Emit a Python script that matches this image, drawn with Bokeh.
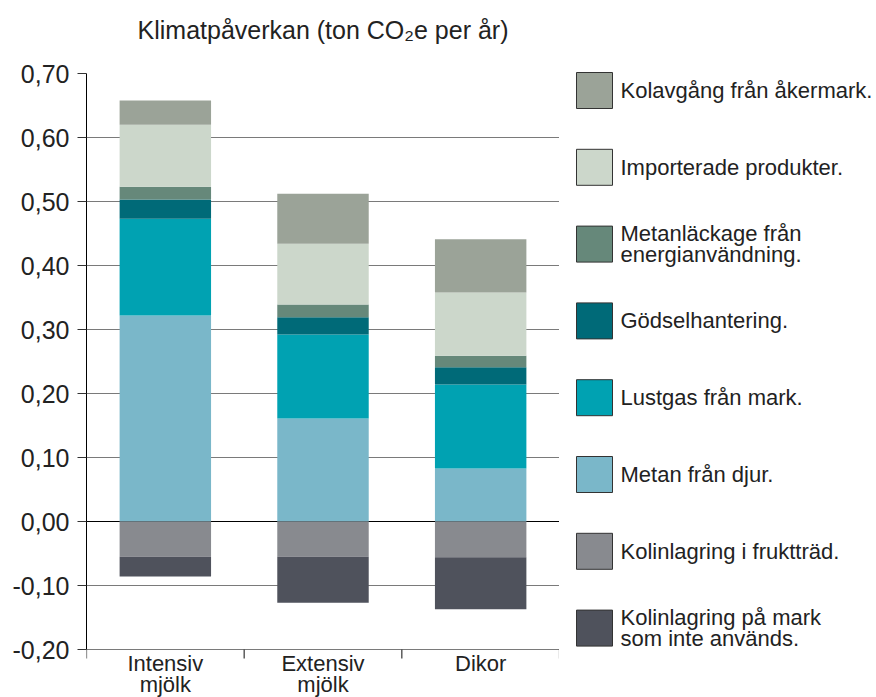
import math
from bokeh.plotting import figure
from bokeh.models import (Range1d, FixedTicker, CustomJSTickFormatter, Span,
                          ColumnDataSource)
from bokeh.layouts import row, column
from bokeh.embed import file_html
from bokeh.resources import INLINE
from bokeh.core.properties import value

# ---------------- data ----------------
categories = ["Intensiv\nmjölk", "Extensiv\nmjölk", "Dikor"]

metan = [0.322, 0.161, 0.083]
lustgas = [0.151, 0.131, 0.131]
godsel = [0.030, 0.027, 0.027]
metanlack = [0.020, 0.020, 0.018]
importerade = [0.097, 0.095, 0.099]
kolavgang = [0.038, 0.078, 0.083]
frukt = [-0.055, -0.055, -0.056]
mark = [-0.031, -0.072, -0.081]

y_ticks = [-0.2, -0.1, 0.0, 0.1, 0.2, 0.3, 0.4, 0.5, 0.6, 0.7]
y_tick_labels = ["-0,20", "-0,10", "0,00", "0,10", "0,20", "0,30",
                 "0,40", "0,50", "0,60", "0,70"]

legend_labels = ["Kolavgång från åkermark.", "Importerade produkter.",
                 "Metanläckage från\nenergianvändning.", "Gödselhantering.",
                 "Lustgas från mark.", "Metan från djur.",
                 "Kolinlagring i fruktträd.",
                 "Kolinlagring på mark\nsom inte används."]

title_text = "Klimatpåverkan (ton CO₂e per år)"

# ---------------- styles ----------------
C_KOLAVG = "#9ba398"
C_IMPORT = "#ccd7cb"
C_METANL = "#66887a"
C_GODSEL = "#006a78"
C_LUSTG = "#00a2b2"
C_METAN = "#7ab7c9"
C_FRUKT = "#888a8f"
C_MARK = "#4f525c"
FONT = "Liberation Sans"
TXT = "#222222"

H = 697
W_MAIN = 559
LEFT = 86
TITLE_H = 59
P_H = H - TITLE_H
LW = 876 - W_MAIN
Y_MIN, Y_MAX = y_ticks[0], y_ticks[-1]
# frame runs from y=73 to the bottom of the page; -0.20 sits 48 px above it
Y_BOTTOM = Y_MIN - 48 * (Y_MAX - Y_MIN) / 576


def blank(fig):
    fig.axis.visible = False
    fig.grid.visible = False
    fig.outline_line_color = None
    return fig


xr = Range1d(0, len(categories))

# ---------------- title ----------------
tf = blank(figure(width=W_MAIN, height=TITLE_H, x_range=xr,
                  y_range=Range1d(TITLE_H, 0), output_backend="svg",
                  toolbar_location=None, min_border_left=LEFT,
                  min_border_right=0, min_border_top=0, min_border_bottom=0))
tf.text(x=[len(categories) / 2], y=[29.5], text=[title_text], text_align="center",
        text_baseline="middle", text_font=value(FONT), text_font_size="25px",
        text_color=TXT)

# ---------------- main plot ----------------
src = ColumnDataSource(dict(
    x=[i + 0.5 for i in range(len(categories))],
    metan=metan, lustgas=lustgas, godsel=godsel, metanlack=metanlack,
    importerade=importerade, kolavgang=kolavgang, frukt=frukt, mark=mark,
))

p = figure(width=W_MAIN, height=P_H, x_range=xr,
           y_range=Range1d(Y_BOTTOM, Y_MAX),
           output_backend="svg", toolbar_location=None,
           min_border_left=LEFT, min_border_right=0,
           min_border_top=14, min_border_bottom=0)
p.outline_line_color = None

p.vbar_stack(["metan", "lustgas", "godsel", "metanlack", "importerade", "kolavgang"],
             x="x", width=0.58, source=src,
             fill_color=[C_METAN, C_LUSTG, C_GODSEL, C_METANL, C_IMPORT, C_KOLAVG],
             line_color=None)
p.vbar_stack(["frukt", "mark"], x="x", width=0.58, source=src,
             fill_color=[C_FRUKT, C_MARK], line_color=None)

p.yaxis.ticker = FixedTicker(ticks=y_ticks, minor_ticks=[])
p.ygrid.ticker = FixedTicker(ticks=y_ticks, minor_ticks=[])
p.yaxis.bounds = (Y_MIN, Y_MAX)
p.yaxis.formatter = CustomJSTickFormatter(
    args=dict(vals=y_ticks, labels=y_tick_labels),
    code="""
    for (let i = 0; i < vals.length; i++) {
        if (Math.abs(vals[i] - tick) < 1e-9) return labels[i];
    }
    return "";
    """)
p.yaxis.major_label_text_font = FONT
p.yaxis.major_label_text_font_size = "25px"
p.yaxis.major_label_text_color = TXT
p.yaxis.major_tick_out = 9
p.yaxis.major_tick_in = 0
p.yaxis.major_label_standoff = 8
p.yaxis.axis_line_color = "black"
p.yaxis.major_tick_line_color = "#333333"

p.ygrid.grid_line_color = "#7a7a7a"
p.ygrid.grid_line_width = 1
p.xgrid.visible = False
p.xaxis.visible = False

p.add_layout(Span(location=0, dimension="width", line_color="black",
                  line_width=1, level="underlay"))

# category boundary ticks hanging under the -0,20 line
bounds_x = list(range(len(categories) + 1))
p.ray(x=bounds_x, y=[Y_MIN] * len(bounds_x), length=9, length_units="screen",
      angle=-math.pi / 2, line_color="#333333", line_width=1.2)

# category labels
p.text(x=[i + 0.5 for i in range(len(categories))], y=[Y_MIN] * len(categories),
       text=categories, y_offset=1, text_align="center", text_baseline="top",
       text_font=value(FONT), text_font_size="22px", text_color=TXT,
       text_line_height=0.87)

# ---------------- legend ----------------
lf = blank(figure(width=LW, height=H, x_range=Range1d(0, LW),
                  y_range=Range1d(H, 0), output_backend="svg",
                  toolbar_location=None, min_border=0))
leg_colors = [C_KOLAVG, C_IMPORT, C_METANL, C_GODSEL, C_LUSTG, C_METAN, C_FRUKT, C_MARK]
ys = [90 + i * 76.8 for i in range(len(legend_labels))]
lf.rect(x=[35] * len(ys), y=ys, width=36, height=36, fill_color=leg_colors,
        line_color="#333333", line_width=1)
lf.text(x=[61] * len(ys), y=ys, text=legend_labels, text_baseline="middle",
        text_align="left", text_font=value(FONT), text_font_size="22px",
        text_color=TXT, text_line_height=0.84)

layout = row(column(tf, p, spacing=0), lf, spacing=0)
open("out.html", "w").write(file_html(layout, INLINE))
